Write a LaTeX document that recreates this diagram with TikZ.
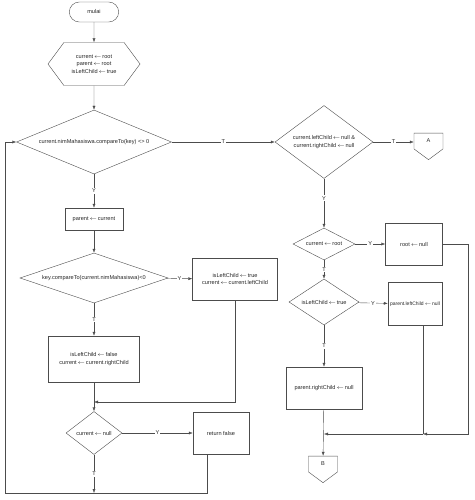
\documentclass[tikz,border=0pt]{standalone}
\usepackage{fontspec}
\setmainfont{Liberation Sans}
\usetikzlibrary{shapes.geometric,shapes.misc,shapes.symbols,arrows.meta}
\newcommand{\asgn}{\,$\leftarrow$\,}
\begin{document}
\begin{tikzpicture}[x=1pt,y=-1pt,
        every node/.style={font=\fontsize{5.6}{7.5}\selectfont, text=black!85},
        line/.style={draw=black!70, line width=0.4pt},
        arr/.style={line, -{Latex[length=4pt,width=3pt]}},
        proc/.style={draw=black!70, rectangle, inner sep=1pt, align=center},
        decide/.style={draw=black!70, diamond, inner sep=0pt, align=center},
        offpage/.style={draw=black!70, signal, signal to=south, signal from=nowhere, signal pointer angle=107, minimum width=29, minimum height=18, inner sep=1pt},
        lbl/.style={fill=white, inner sep=1pt}]
    \useasboundingbox (0,0) rectangle (474,500);
    % left column
    \node[draw=black!70, rounded rectangle, minimum width=56, minimum height=20] (start) at (94,12) {mulai};
    \node[draw=black!70, signal, signal to=west and east, signal pointer angle=107, minimum width=92, minimum height=43, align=center] (init) at (94,64)
        {current\asgn root\\ parent\asgn root\\ isLeftChild\asgn true};
    \node[decide, minimum width=155, minimum height=64, aspect=2.4] (cmp) at (94,142) {current.nimMahasiswa.compareTo(key) <> 0};
    \node[proc, minimum width=58, minimum height=22] (par) at (94,219) {parent\asgn current};
    \node[decide, minimum width=148, minimum height=50, aspect=2.96] (less) at (94,278) {key.compareTo(current.nimMahasiswa)<0};
    \node[proc, minimum width=85, minimum height=42] (goleft) at (235,279) {isLeftChild\asgn true\\ current\asgn current.leftChild};
    \node[proc, minimum width=91, minimum height=46] (goright) at (94,359) {isLeftChild\asgn false\\ current\asgn current.rightChild};
    \node[decide, minimum width=56, minimum height=43, aspect=1.3] (isnull) at (94,433) {current\asgn null};
    \node[proc, minimum width=56, minimum height=42] (ret) at (221,433) {return false};
    % right column
    \node[decide, minimum width=98, minimum height=73, aspect=1.34] (leaf) at (324,142) {current.leftChild\asgn null \&\\ current.rightChild\asgn null};
    \node[offpage] (A) at (428.5,141) {A};
    \node[decide, minimum width=62, minimum height=32, aspect=1.94] (isroot) at (324,244) {current\asgn root};
    \node[proc, minimum width=57, minimum height=42] (rootnull) at (414,244) {root\asgn null};
    \node[decide, minimum width=70, minimum height=46, aspect=1.52] (isleft) at (324,302) {isLeftChild\asgn true};
    \node[proc, minimum width=54, minimum height=43, inner sep=0pt, font=\fontsize{5}{7}\selectfont] (plnull) at (415,304) {parent.leftChild\asgn null};
    \node[proc, minimum width=76, minimum height=42] (prnull) at (324,388) {parent.rightChild\asgn null};
    \node[offpage] (B) at (323,464) {B};
    \coordinate (j1) at (94,402);
    \coordinate (j2) at (94,493);
    \coordinate (back) at (5,493);
    \coordinate (j3) at (423,434);
    \coordinate (j4) at (324,434);
    % connectors left
    \draw[arr] (start) -- (init);
    \draw[arr] (init) -- (cmp);
    \draw[arr] (cmp) -- node[lbl]{T} (leaf);
    \draw[arr] (cmp) -- node[lbl]{Y} (par);
    \draw[arr] (par) -- (less);
    \draw[arr] (less) -- node[lbl]{Y} (goleft);
    \draw[arr] (less) -- node[lbl]{T} (goright);
    \draw[arr] (goright) -- (isnull);
    \draw[arr] (goleft) |- (j1);
    \draw[arr] (isnull) -- node[lbl]{Y} (ret);
    \draw[arr] (isnull) -- node[lbl]{T} (j2);
    \draw[arr] ([xshift=-14pt]ret.south) |- (back) |- (cmp.west);
    % connectors right
    \draw[arr] (leaf) -- node[lbl]{T} (leaf -| A.west);
    \draw[arr] (leaf) -- node[lbl, pos=0.4]{Y} (isroot);
    \draw[arr] (isroot) -- node[lbl]{Y} (rootnull);
    \draw[arr] (isroot) -- node[lbl]{T} (isleft);
    \draw[arr] (isleft) -- node[lbl]{Y} (plnull);
    \draw[arr] (isleft) -- node[lbl]{T} (prnull);
    \draw[arr] (prnull) -- (B);
    \draw[arr] (rootnull.east) -- ++(25.5,0) |- (j3);
    \draw[line] (plnull.south -| j3) -- (j3);
    \draw[arr] (j3) -- (j4);
\end{tikzpicture}
\end{document}
